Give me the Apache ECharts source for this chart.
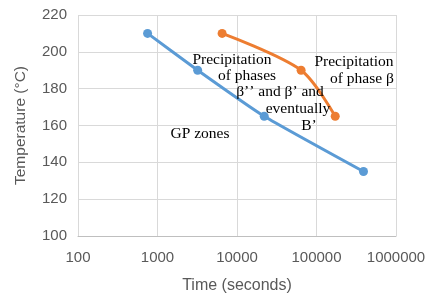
<!DOCTYPE html>
<html><head><meta charset="utf-8">
<script src="https://cdn.jsdelivr.net/npm/echarts@6/dist/echarts.min.js"></script>
<style>html,body{margin:0;padding:0;background:#fff}#c{width:433px;height:299px}</style>
</head><body><div id="c"></div>
<script>
// Data
var blueTimes = [750, 3200, 22000, 390000];
var blueTemps = [210, 190, 165, 135];
var orangeTimes = [6500, 64000, 172000];
var orangeTemps = [210, 190, 165];
var xTicks = [100, 1000, 10000, 100000, 1000000];
var yTicks = [100, 120, 140, 160, 180, 200, 220];
var xTitle = 'Time (seconds)';
var yTitle = 'Temperature (°C)';
var notes = [
  {t:'Precipitation', x:232, y:60},
  {t:'of phases', x:247, y:76},
  {t:'β\u02BC\u02BC and β\u02BC and', x:280, y:92},
  {t:'eventually', x:298, y:109},
  {t:'B\u02BC', x:309, y:126},
  {t:'Precipitation', x:354, y:62},
  {t:'of phase β', x:362, y:79},
  {t:'GP zones', x:200, y:134}
];

function pairs(xs, ys){ return xs.map(function(v,i){ return [v, ys[i]]; }); }

var chart = echarts.init(document.getElementById('c'), null, {renderer:'canvas'});
var axisFont = {color:'#595959', fontSize:15, fontFamily:'Liberation Sans'};
chart.setOption({
  animation:false,
  grid:{left:78, right:37, top:15, bottom:62, containLabel:false},
  xAxis:{
    type:'log', logBase:10, min:xTicks[0], max:xTicks[xTicks.length-1],
    name:xTitle, nameLocation:'middle', nameGap:42,
    nameTextStyle:{color:'#595959', fontSize:16, fontFamily:'Liberation Sans'},
    axisLine:{show:true, lineStyle:{color:'#bfbfbf', width:1}},
    axisTick:{show:false},
    axisLabel:Object.assign({margin:14, formatter:function(v){return String(Math.round(v));}}, axisFont),
    splitLine:{show:true, lineStyle:{color:'#d9d9d9', width:1}},
    minorTick:{show:false}
  },
  yAxis:{
    type:'value', min:yTicks[0], max:yTicks[yTicks.length-1], interval:20,
    name:yTitle, nameLocation:'middle', nameGap:49,
    nameTextStyle:{color:'#595959', fontSize:15.5, fontFamily:'Liberation Sans'},
    axisLine:{show:false}, axisTick:{show:false},
    axisLabel:Object.assign({margin:11}, axisFont),
    splitLine:{show:true, lineStyle:{color:'#d9d9d9', width:1}}
  },
  series:[
    {type:'line', name:'blue', data:pairs(blueTimes, blueTemps), smooth:0.15,
     symbol:'circle', symbolSize:9, lineStyle:{color:'#5b9bd5', width:3},
     itemStyle:{color:'#5b9bd5'}},
    {type:'line', name:'orange', data:pairs(orangeTimes, orangeTemps), smooth:0.3,
     symbol:'circle', symbolSize:9, lineStyle:{color:'#ed7d31', width:3},
     itemStyle:{color:'#ed7d31'}}
  ],
  graphic: notes.map(function(n){
    return {type:'text', x:n.x, y:n.y, z:100,
      style:{text:n.t, fill:'#000', font:'15.5px "Liberation Serif"', align:'center', verticalAlign:'middle'}};
  })
});
</script></body></html>
